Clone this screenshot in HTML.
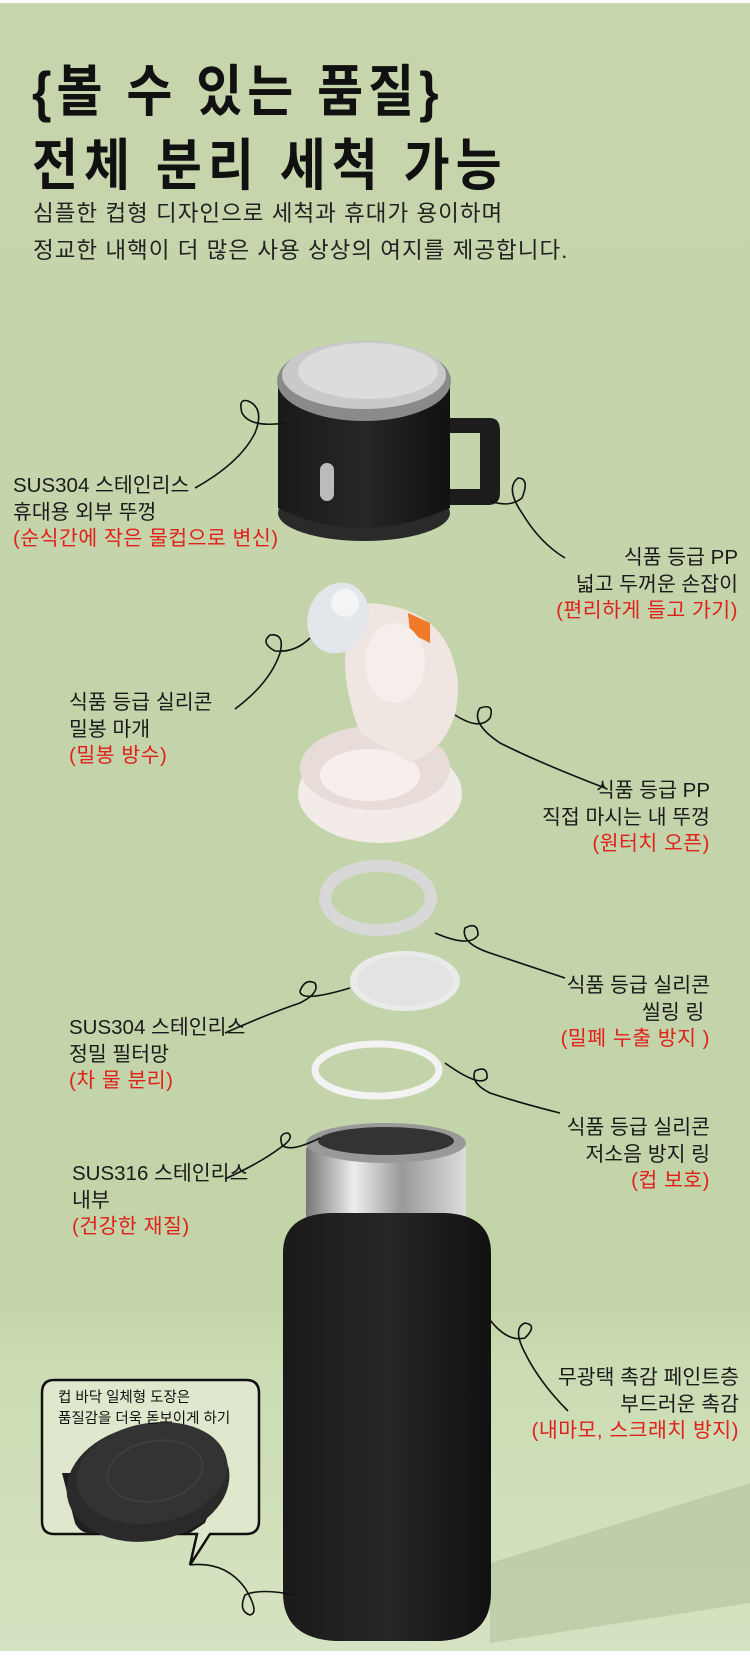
<!DOCTYPE html>
<html><head><meta charset="utf-8"><style>
body{margin:0;width:750px;height:1656px;overflow:hidden;background:#fff}
#w{position:absolute;left:0;top:3px;width:750px;height:1648px;background:linear-gradient(#c6d5ac 0,#c3d4a9 1300px,#cbdcb3 1360px,#d6e3c2 1650px);overflow:hidden}
.t{position:absolute;font-family:"Liberation Sans","Noto Sans CJK KR",sans-serif;color:#111;white-space:nowrap}
.h{font-weight:bold;font-size:50px;left:32px;letter-spacing:5px;transform:scaleY(1.12);transform-origin:0 0}
.s{font-size:22.5px;left:33px;color:#222;letter-spacing:1px}
.l{font-size:20.5px;line-height:26.5px;color:#1a1a1a}
.r{color:#e0201a;letter-spacing:.5px}
.R{text-align:right}
</style></head><body><div id="w">
<svg width="750" height="1648" style="position:absolute;left:0;top:0">
<defs>
<linearGradient id="bk" x1="0" x2="1"><stop offset="0" stop-color="#1a1a1a"/><stop offset=".5" stop-color="#262626"/><stop offset="1" stop-color="#111"/></linearGradient>
<linearGradient id="st" x1="0" x2="1"><stop offset="0" stop-color="#777"/><stop offset=".3" stop-color="#eee"/><stop offset=".6" stop-color="#999"/><stop offset="1" stop-color="#ddd"/></linearGradient>
</defs>
<path d="M490 1560 L750 1480 L750 1600 L490 1640Z" fill="#b7c6a2" opacity=".7"/>
<path d="M445 415 L490 415 Q500 415 500 428 L500 490 Q500 502 488 502 L445 502 L445 486 L480 486 L480 430 L445 430Z" fill="#1c1c1c"/>
<ellipse cx="364" cy="510" rx="86" ry="28" fill="#2a2a2a"/>
<path d="M278 380 L278 505 Q360 545 450 505 L450 380Z" fill="url(#bk)"/>
<ellipse cx="364" cy="378" rx="87" ry="40" fill="#8a8a8a"/>
<ellipse cx="364" cy="372" rx="82" ry="34" fill="#c9c9c9"/>
<ellipse cx="368" cy="368" rx="70" ry="28" fill="#dcdcdc"/>
<rect x="320" y="460" width="14" height="38" rx="7" fill="#bbb"/>
<ellipse cx="380" cy="790" rx="82" ry="50" fill="#f2ebe8"/>
<ellipse cx="375" cy="765" rx="75" ry="42" fill="#e7dcd8"/>
<ellipse cx="370" cy="772" rx="50" ry="26" fill="#f6efec"/>
<path d="M360 600 Q450 600 458 680 Q460 740 410 760 L360 730 Q330 650 360 600Z" fill="#efe5e1"/>
<path d="M408 610 L430 620 L430 640 L410 630Z" fill="#f07a2a"/>
<ellipse cx="395" cy="660" rx="30" ry="40" fill="#f6eeeb"/>
<ellipse cx="338" cy="615" rx="30" ry="36" fill="#e3e6ea" transform="rotate(20 338 615)"/>
<circle cx="345" cy="600" r="14" fill="#f3f4f6"/>
<ellipse cx="378" cy="895" rx="53" ry="32" fill="none" stroke="#d8d8d8" stroke-width="12"/>
<ellipse cx="405" cy="978" rx="55" ry="30" fill="#e9ebe8"/>
<ellipse cx="405" cy="978" rx="48" ry="25" fill="#ddd" opacity=".6"/>
<ellipse cx="377" cy="1067" rx="62" ry="26" fill="none" stroke="#f3f3f3" stroke-width="7"/>
<rect x="306" y="1140" width="160" height="80" rx="8" fill="url(#st)"/>
<ellipse cx="386" cy="1140" rx="80" ry="20" fill="#999"/>
<ellipse cx="386" cy="1138" rx="68" ry="14" fill="#333"/>
<path d="M283 1250 Q283 1212 330 1210 L445 1210 Q491 1212 491 1250 L491 1590 Q491 1635 440 1638 L335 1638 Q283 1635 283 1590Z" fill="url(#bk)"/>
<path d="M54 1377 H246 Q259 1377 259 1390 V1518 Q259 1531 246 1531 H210 L190 1562 L197 1531 H54 Q42 1531 42 1518 V1390 Q42 1377 54 1377Z" fill="#dfe8cd" stroke="#111" stroke-width="2.5"/>
<path d="M62 1470 L75 1520 Q80 1530 90 1530 L190 1530 L205 1520 L225 1470Z" fill="#1e1e1e"/>
<ellipse cx="148" cy="1480" rx="82" ry="58" fill="#2a2a2a" transform="rotate(-10 148 1480)"/>
<ellipse cx="152" cy="1470" rx="76" ry="50" fill="#333" transform="rotate(-10 152 1470)"/>
<ellipse cx="155" cy="1468" rx="48" ry="30" fill="none" stroke="#3e3e3e" stroke-width="2" transform="rotate(-10 155 1468)"/>
<g fill="none" stroke="#111" stroke-width="1.6">
<path d="M195 485 Q240 460 255 430 Q265 405 248 398 Q238 395 242 410 Q250 425 285 420"/>
<path d="M565 555 Q540 540 522 510 Q505 485 518 475 Q530 475 522 495 Q510 505 490 498"/>
<path d="M235 706 Q270 680 280 650 Q285 630 270 632 Q260 640 275 648 Q295 650 310 635"/>
<path d="M605 785 Q540 760 500 740 Q470 720 480 705 Q495 700 490 715 Q480 728 455 712"/>
<path d="M565 975 Q520 960 490 950 Q460 940 465 925 Q478 918 478 932 Q470 945 435 930"/>
<path d="M225 1030 Q270 1010 300 1000 Q320 990 315 980 Q305 975 300 988 Q300 1000 350 985"/>
<path d="M560 1110 Q520 1100 490 1090 Q470 1080 475 1068 Q488 1062 487 1075 Q480 1085 445 1060"/>
<path d="M225 1176 Q260 1160 280 1145 Q295 1135 288 1130 Q278 1130 282 1142 Q290 1150 320 1135"/>
<path d="M568 1408 Q540 1380 525 1350 Q512 1325 525 1320 Q538 1322 525 1335 Q505 1340 485 1310"/>
<path d="M190 1562 Q225 1558 245 1585 Q260 1610 250 1612 Q238 1608 245 1592 Q260 1585 295 1592"/>
</g>
</svg>
<div class="t h" style="top:44px">{볼 수 있는 품질}</div>
<div class="t h" style="top:118px;letter-spacing:6px">전체 분리 세척 가능</div>
<div class="t s" style="top:193px">심플한 컵형 디자인으로 세척과 휴대가 용이하며</div>
<div class="t s" style="top:230px">정교한 내핵이 더 많은 사용 상상의 여지를 제공합니다.</div>
<div class="t l" style="left:13px;top:470px">SUS304 스테인리스<br>휴대용 외부 뚜껑<br><span class="r">(순식간에 작은 물컵으로 변신)</span></div>
<div class="t l R" style="right:12px;top:542px">식품 등급 PP<br>넓고 두꺼운 손잡이<br><span class="r">(편리하게 들고 가기)</span></div>
<div class="t l" style="left:69px;top:687px">식품 등급 실리콘<br>밀봉 마개<br><span class="r">(밀봉 방수)</span></div>
<div class="t l R" style="right:40px;top:775px">식품 등급 PP<br>직접 마시는 내 뚜껑<br><span class="r">(원터치 오픈)</span></div>
<div class="t l R" style="right:40px;top:970px">식품 등급 실리콘<br>씰링 링&nbsp;<br><span class="r">(밀폐 누출 방지 )</span></div>
<div class="t l" style="left:69px;top:1012px">SUS304 스테인리스<br>정밀 필터망<br><span class="r">(차 물 분리)</span></div>
<div class="t l R" style="right:40px;top:1112px">식품 등급 실리콘<br>저소음 방지 링<br><span class="r">(컵 보호)</span></div>
<div class="t l" style="left:72px;top:1158px">SUS316 스테인리스<br>내부<br><span class="r">(건강한 재질)</span></div>
<div class="t l R" style="right:11px;top:1362px">무광택 촉감 페인트층<br>부드러운 촉감<br><span class="r">(내마모, 스크래치 방지)</span></div>
<div class="t" style="left:58px;top:1385px;font-size:14.5px;line-height:21px">컵 바닥 일체형 도장은<br>품질감을 더욱 돋보이게 하기</div>
</div></body></html>
